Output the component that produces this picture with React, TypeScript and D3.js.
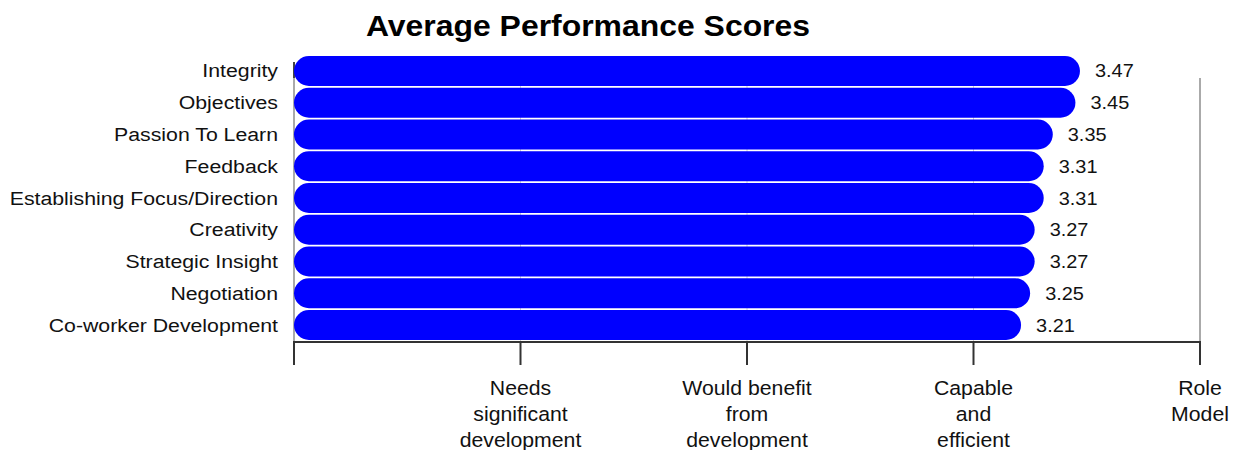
import React, { useEffect, useRef } from 'react';
import * as d3 from 'd3';

const categories = [
  'Integrity',
  'Objectives',
  'Passion To Learn',
  'Feedback',
  'Establishing Focus/Direction',
  'Creativity',
  'Strategic Insight',
  'Negotiation',
  'Co-worker Development',
];
const scores = [3.47, 3.45, 3.35, 3.31, 3.31, 3.27, 3.27, 3.25, 3.21];
const tickValues = [0, 1, 2, 3, 4];
const tickLabels = [
  [],
  ['Needs', 'significant', 'development'],
  ['Would benefit', 'from', 'development'],
  ['Capable', 'and', 'efficient'],
  ['Role', 'Model'],
];

const FONT = 'Arial, "Liberation Sans", sans-serif';
const SX = 1.09; // text in the reference is slightly wide

export default function App() {
  const ref = useRef<SVGSVGElement>(null);

  useEffect(() => {
    const svg = d3.select(ref.current);
    svg.selectAll('*').remove();

    const x = d3.scaleLinear().domain([0, 4]).range([294, 1200]);
    const y = d3.scaleBand<string>()
      .domain(categories)
      .range([55.1, 340.9])
      .paddingInner(0.06)
      .paddingOuter(0.03);
    const axisY = 342;

    // title
    svg.append('text')
      .attr('transform', `translate(588,36) scale(${SX},1)`)
      .attr('text-anchor', 'middle')
      .style('font-family', FONT)
      .style('font-size', '29.3px')
      .style('font-weight', 'bold')
      .text('Average Performance Scores');

    // gridlines
    svg.append('g').selectAll('line')
      .data(tickValues.slice(1, 4))
      .enter().append('line')
      .attr('x1', d => x(d)).attr('x2', d => x(d))
      .attr('y1', 56).attr('y2', axisY)
      .attr('stroke', '#d0d0d0').attr('stroke-width', 1);

    svg.append('line')
      .attr('x1', x(0)).attr('x2', x(0)).attr('y1', 62).attr('y2', axisY)
      .attr('stroke', '#aaa').attr('stroke-width', 2);
    svg.append('line')
      .attr('x1', x(0)).attr('x2', x(0)).attr('y1', 62).attr('y2', 78)
      .attr('stroke', '#444').attr('stroke-width', 2);
    svg.append('line')
      .attr('x1', x(4)).attr('x2', x(4)).attr('y1', 78).attr('y2', axisY)
      .attr('stroke', '#aaa').attr('stroke-width', 2);

    // bars
    const bw = y.bandwidth();
    svg.append('g').selectAll('rect')
      .data(categories)
      .enter().append('rect')
      .attr('x', x(0))
      .attr('y', d => y(d)!)
      .attr('width', (d, i) => x(scores[i]) - x(0))
      .attr('height', bw)
      .attr('rx', bw / 2).attr('ry', bw / 2)
      .attr('fill', '#0000ff');

    // category labels
    svg.append('g').selectAll('text')
      .data(categories)
      .enter().append('text')
      .attr('transform', d => `translate(278,${y(d)! + bw / 2 + 6.5}) scale(1.12,1)`)
      .attr('text-anchor', 'end')
      .style('font-family', FONT)
      .style('font-size', '19px')
      .attr('fill', '#111')
      .text(d => d);

    // value labels
    svg.append('g').selectAll('text')
      .data(categories)
      .enter().append('text')
      .attr('transform', (d, i) => `translate(${x(scores[i]) + 15},${y(d)! + bw / 2 + 6.5}) scale(${SX},1)`)
      .style('font-family', FONT)
      .style('font-size', '18.3px')
      .attr('fill', '#111')
      .text((d, i) => scores[i].toFixed(2));

    // bottom axis
    svg.append('line')
      .attr('x1', x(0) - 1).attr('x2', x(4) + 1).attr('y1', axisY).attr('y2', axisY)
      .attr('stroke', '#333').attr('stroke-width', 2);
    svg.append('g').selectAll('line')
      .data(tickValues)
      .enter().append('line')
      .attr('x1', d => x(d)).attr('x2', d => x(d))
      .attr('y1', axisY).attr('y2', 365)
      .attr('stroke', '#333').attr('stroke-width', 2);

    const tl = svg.append('g').selectAll('text')
      .data(tickValues)
      .enter().append('text')
      .attr('transform', d => `translate(${x(d)},395) scale(${SX},1)`)
      .attr('text-anchor', 'middle')
      .style('font-family', FONT)
      .style('font-size', '19.5px')
      .attr('fill', '#111');
    tl.each(function (d, i) {
      d3.select(this).selectAll('tspan')
        .data(tickLabels[i])
        .enter().append('tspan')
        .attr('x', 0)
        .attr('dy', (s, j) => (j === 0 ? 0 : 26))
        .text(s => s);
    });
  }, []);

  return (
    <svg ref={ref} width={1238} height={450}
      style={{ position: 'absolute', left: 0, top: 0 }} />
  );
}
